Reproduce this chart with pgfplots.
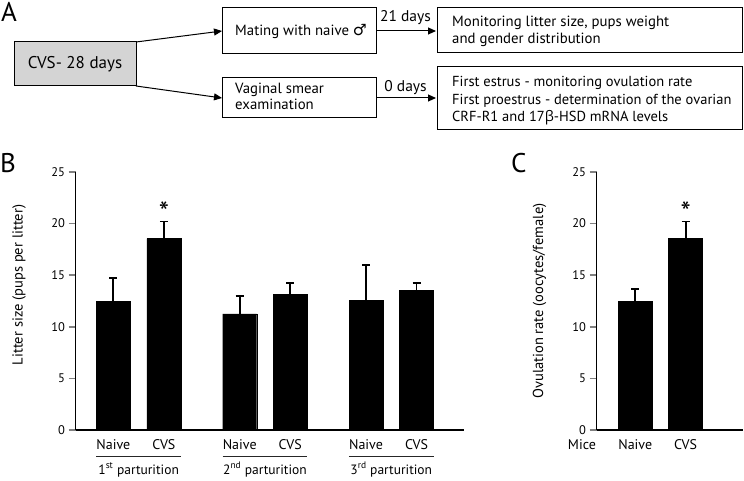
\documentclass[border=0pt]{standalone}
\usepackage{pgfplots}
\pgfplotsset{compat=1.18}
\usepackage{fontspec}
\setmainfont{PT Sans}
\newfontfamily\sym{DejaVu Sans}
\newfontfamily\grk{Open Sans}
\usetikzlibrary{arrows.meta}
\newcommand\fs[1]{\fontsize{#1bp}{1.15\dimexpr#1bp\relax}\selectfont}
\begin{document}
\begin{tikzpicture}
\begin{scope}[x=1bp,y=-1bp]
\useasboundingbox (0,0) rectangle (744,481);
% ---- Panel A ----
\node[anchor=base west, inner sep=0, font=\fs{27}] at (1,22) {A};
\draw[line width=1bp, fill=black!17] (14,42) rectangle (136,86);
\node[font=\fs{17}] at (75,64) {CVS- 28 days};
\draw[line width=1bp] (222.5,8) rectangle (376,53.5);
\node[anchor=base west, inner sep=0, font=\fs{14.8}] at (235,35.7) {Mating with naive {\sym\fs{15.5}♂}};
\draw[line width=1bp] (222.5,78) rectangle (376,118);
\node[anchor=base west, inner sep=0, font=\fs{14.8}] at (235,93.5) {Vaginal smear};
\node[anchor=base west, inner sep=0, font=\fs{14.8}] at (235,110) {examination};
\draw[line width=1bp] (437,7.5) rectangle (742.5,53);
\node[anchor=base west, inner sep=0, font=\fs{14.8}] at (452,26.5) {Monitoring litter size, pups weight};
\node[anchor=base west, inner sep=0, font=\fs{14.8}] at (452,44) {and gender distribution};
\draw[line width=1bp] (437,66.3) rectangle (742.5,130);
\node[anchor=base west, inner sep=0, font=\fs{14.5}] at (452,87) {First estrus - monitoring ovulation rate};
\node[anchor=base west, inner sep=0, font=\fs{14.5}] at (452,104.3) {First proestrus - determination of the ovarian};
\node[anchor=base west, inner sep=0, font=\fs{14.5}] at (452,121.3) {CRF-R1 and 17{\grk β}-HSD mRNA levels};
\draw[line width=1bp, -{Triangle[length=8bp,width=7bp]}] (136,42) -- (222,31);
\draw[line width=1bp, -{Triangle[length=8bp,width=7bp]}] (136,86) -- (222,98);
\draw[line width=1bp, -{Triangle[length=8bp,width=7bp]}] (376,31) -- (436,31);
\draw[line width=1bp, -{Triangle[length=8bp,width=7bp]}] (376,98) -- (436,98);
\node[anchor=base, inner sep=0, font=\fs{15.5}] at (405.5,21.5) {21 days};
\node[anchor=base, inner sep=0, font=\fs{15.5}] at (405.5,91.5) {0 days};
% ---- panel letters and y labels ----
\node[anchor=base west, inner sep=0, font=\fs{27}] at (0,173) {B};
\node[anchor=base west, inner sep=0, font=\fs{27}] at (511,173) {C};
\node[rotate=90, font=\fs{14.5}] at (19,285) {Litter size (pups per litter)};
\node[rotate=90, font=\fs{14.5}] at (539.5,301) {Ovulation rate (oocytes/female)};
\end{scope}
% ---- Panel B ----
\begin{axis}[
  at={(75.5bp,-430bp)}, anchor=south west, scale only axis,
  width=388bp, height=258bp,
  xmin=-0.75, xmax=6.93, ymin=0, ymax=25,
  axis x line*=bottom, axis y line*=left,
  axis line style={line width=1.8bp},
  ytick={0,5,...,25}, xtick=\empty,
  tick align=outside, major tick length=7bp,
  ytick style={line width=1.6bp},
  yticklabel style={font=\fs{12.5}},
  /pgf/number format/assume math mode=true,
  clip=false,
]
\addplot[ybar, bar width=34bp, fill=black, draw=black,
  error bars/.cd, y dir=plus, y explicit,
  error bar style={line width=1.8bp, black},
  error mark options={rotate=90, line width=1.8bp, mark size=4bp, black}]
  coordinates {
  (0,12.5) +- (0,2.25)
  (1,18.55) +- (0,1.65)
  (2.5,11.25) +- (0,1.75)
  (3.5,13.15) +- (0,1.12)
  (5,12.55) +- (0,3.45)
  (6,13.5) +- (0,0.77)
  };
\node[anchor=base, inner sep=0, font=\fs{29}] at (axis cs:1,20.1) {*};
\node[anchor=base, inner sep=0, font=\fs{14}] at ([yshift=-19.3bp]axis cs:0,0) {Naive};
\node[anchor=base, inner sep=0, font=\fs{14}] at ([yshift=-19.3bp]axis cs:1,0) {CVS};
\node[anchor=base, inner sep=0, font=\fs{14}] at ([yshift=-19.3bp]axis cs:2.5,0) {Naive};
\node[anchor=base, inner sep=0, font=\fs{14}] at ([yshift=-19.3bp]axis cs:3.5,0) {CVS};
\node[anchor=base, inner sep=0, font=\fs{14}] at ([yshift=-19.3bp]axis cs:5,0) {Naive};
\node[anchor=base, inner sep=0, font=\fs{14}] at ([yshift=-19.3bp]axis cs:6,0) {CVS};
\draw[line width=1.2bp, black!85] ([yshift=-26.7bp]axis cs:-0.337,0) -- ([yshift=-26.7bp]axis cs:1.337,0);
\draw[line width=1.2bp, black!85] ([yshift=-26.7bp]axis cs:2.163,0) -- ([yshift=-26.7bp]axis cs:3.837,0);
\draw[line width=1.2bp, black!85] ([yshift=-26.7bp]axis cs:4.663,0) -- ([yshift=-26.7bp]axis cs:6.337,0);
\node[anchor=base, inner sep=0, font=\fs{13.5}] at ([yshift=-44bp]axis cs:0.5,0) {1\textsuperscript{st} parturition};
\node[anchor=base, inner sep=0, font=\fs{13.5}] at ([yshift=-44bp]axis cs:3,0) {2\textsuperscript{nd} parturition};
\node[anchor=base, inner sep=0, font=\fs{13.5}] at ([yshift=-44bp]axis cs:5.5,0) {3\textsuperscript{rd} parturition};
\end{axis}
% ---- Panel C ----
\begin{axis}[
  at={(596.5bp,-430bp)}, anchor=south west, scale only axis,
  width=146bp, height=258bp,
  xmin=0.23, xmax=3.13, ymin=0, ymax=25,
  axis x line*=bottom, axis y line*=left,
  axis line style={line width=1.8bp},
  ytick={0,5,...,25}, xtick=\empty,
  tick align=outside, major tick length=7bp,
  ytick style={line width=1.6bp},
  yticklabel style={font=\fs{12.5}},
  /pgf/number format/assume math mode=true,
  clip=false,
]
\addplot[ybar, bar width=34bp, fill=black, draw=black,
  error bars/.cd, y dir=plus, y explicit,
  error bar style={line width=1.8bp, black},
  error mark options={rotate=90, line width=1.8bp, mark size=4bp, black}]
  coordinates {
  (1,12.5) +- (0,1.15)
  (2,18.55) +- (0,1.65)
  };
\node[anchor=base, inner sep=0, font=\fs{29}] at (axis cs:2,20.1) {*};
\node[anchor=base, inner sep=0, font=\fs{14}] at ([yshift=-19.3bp]axis cs:1,0) {Naive};
\node[anchor=base, inner sep=0, font=\fs{14}] at ([yshift=-19.3bp]axis cs:2,0) {CVS};
\node[anchor=base, inner sep=0, font=\fs{14}] at ([yshift=-19.3bp]axis cs:-0.06,0) {Mice};
\end{axis}
\end{tikzpicture}
\end{document}
